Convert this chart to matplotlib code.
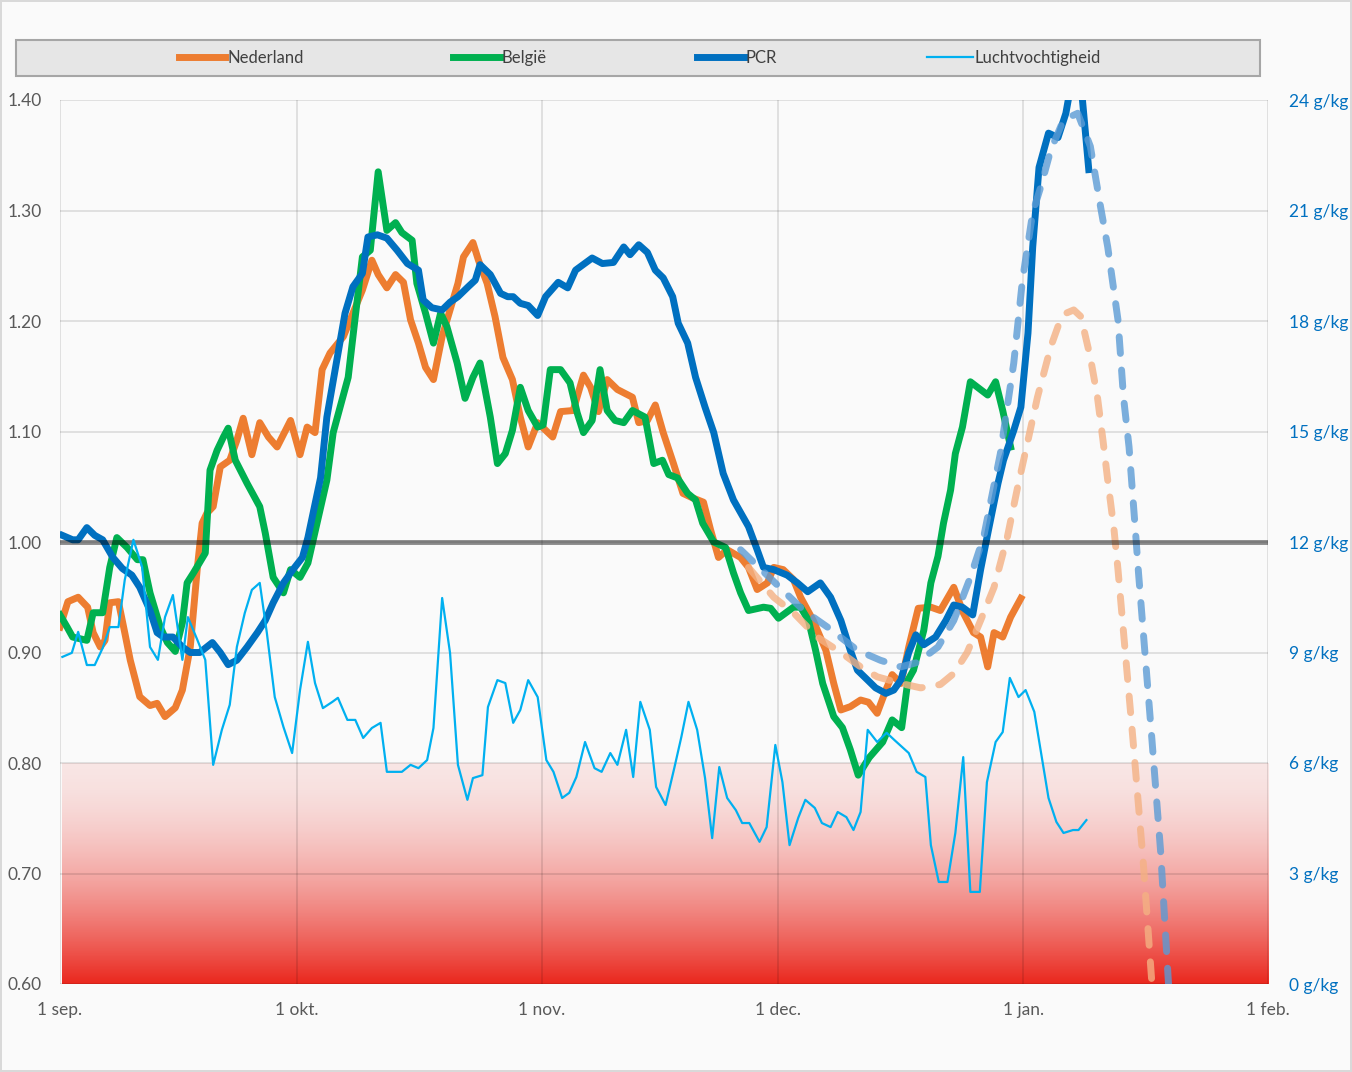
import numpy as np
import matplotlib.pyplot as plt
from matplotlib.patches import Rectangle
from matplotlib.ticker import FormatStrFormatter

plt.rcParams['font.family'] = ['Lato', 'DejaVu Sans']

# x = days since 1 sep.
nl_day = [0.0, 1.0, 2.3, 3.5, 4.2, 5.1, 5.7, 6.3, 7.4, 8.2, 8.9, 10.1, 11.4, 12.3, 13.3, 14.6,
          15.5, 16.5, 17.4, 18.0, 18.6, 19.4, 20.3, 21.5, 22.4, 23.2, 24.3, 25.3, 26.4, 27.5,
          29.2, 30.4, 31.3, 32.3, 33.2, 34.2, 35.9, 37.1, 38.3, 39.5, 40.3, 41.4, 42.5, 43.5,
          44.4, 45.4, 46.3, 47.3, 48.4, 49.4, 50.4, 51.1, 52.3, 53.0, 54.1, 55.1, 56.1, 57.3,
          58.3, 59.3, 60.5, 62.4, 63.4, 65.0, 66.3, 67.2, 68.2, 69.3, 70.6, 72.5, 73.3, 74.4,
          75.4, 76.4, 77.7, 78.9, 80.1, 81.5, 82.4, 83.4, 84.5, 86.2, 87.2, 88.3, 89.6, 90.4,
          91.6, 92.9, 93.8, 95.4, 97.0, 98.0, 98.9, 100.1, 101.4, 102.4, 103.5, 104.6, 105.4,
          106.5, 107.5, 108.7, 110.3, 111.5, 113.2, 114.4, 115.7, 116.6, 117.5, 118.3, 119.4,
          120.4, 121.7]
nl_val = [0.923, 0.946, 0.950, 0.941, 0.918, 0.905, 0.911, 0.945, 0.946, 0.918, 0.893, 0.860,
          0.852, 0.854, 0.842, 0.850, 0.866, 0.905, 0.977, 1.017, 1.026, 1.032, 1.068, 1.074,
          1.092, 1.112, 1.079, 1.108, 1.095, 1.086, 1.110, 1.079, 1.104, 1.099, 1.156, 1.171,
          1.186, 1.207, 1.228, 1.255, 1.242, 1.230, 1.242, 1.235, 1.201, 1.180, 1.158, 1.147,
          1.186, 1.210, 1.234, 1.258, 1.271, 1.255, 1.234, 1.204, 1.167, 1.147, 1.113, 1.086,
          1.108, 1.095, 1.118, 1.119, 1.151, 1.140, 1.118, 1.147, 1.138, 1.131, 1.108, 1.110,
          1.124, 1.099, 1.071, 1.044, 1.040, 1.036, 1.011, 0.986, 0.993, 0.986, 0.977, 0.957,
          0.963, 0.977, 0.975, 0.966, 0.950, 0.929, 0.902, 0.872, 0.848, 0.851, 0.857, 0.855,
          0.845, 0.866, 0.880, 0.872, 0.905, 0.940, 0.941, 0.938, 0.959, 0.936, 0.918, 0.914,
          0.887, 0.918, 0.914, 0.932, 0.949]

be_day = [0.0, 0.9, 1.6, 3.4, 4.2, 5.4, 6.3, 7.2, 8.5, 9.8, 10.5, 11.4, 12.7, 13.6, 14.6, 15.5,
          16.1, 16.9, 18.4, 19.0, 19.9, 20.7, 21.3, 22.2, 23.7, 25.3, 26.0, 27.0, 28.3, 29.2,
          30.4, 31.4, 33.8, 34.6, 36.5, 37.4, 38.3, 39.3, 40.3, 41.4, 42.5, 43.3, 44.6, 45.2,
          46.3, 47.3, 48.2, 49.0, 50.3, 51.3, 52.3, 53.2, 54.5, 55.4, 56.4, 57.3, 58.3, 59.3,
          60.5, 61.2, 62.1, 63.4, 64.6, 65.5, 66.3, 67.4, 68.4, 69.3, 70.3, 71.4, 72.5, 74.1,
          75.2, 76.3, 77.1, 78.2, 79.5, 80.5, 81.4, 82.8, 84.3, 85.3, 86.2, 87.2, 89.1, 90.0,
          91.0, 92.9, 93.8, 94.8, 95.7, 96.6, 98.0, 99.1, 100.1, 101.1, 102.5, 104.2, 105.4,
          106.6, 107.4, 108.1, 109.4, 110.3, 111.2, 111.9, 112.8, 113.4, 114.3, 115.3, 117.5,
          118.5, 119.4, 120.4]
be_val = [0.934, 0.923, 0.914, 0.911, 0.936, 0.936, 0.977, 1.004, 0.995, 0.984, 0.984, 0.954,
          0.923, 0.909, 0.901, 0.927, 0.963, 0.972, 0.990, 1.065, 1.083, 1.095, 1.103, 1.074,
          1.053, 1.032, 1.008, 0.968, 0.954, 0.975, 0.968, 0.981, 1.056, 1.099, 1.149, 1.204,
          1.258, 1.264, 1.335, 1.282, 1.289, 1.280, 1.273, 1.234, 1.207, 1.180, 1.207, 1.195,
          1.162, 1.130, 1.149, 1.162, 1.113, 1.071, 1.080, 1.101, 1.140, 1.119, 1.104, 1.106,
          1.156, 1.156, 1.144, 1.117, 1.099, 1.110, 1.156, 1.119, 1.110, 1.108, 1.119, 1.113,
          1.071, 1.074, 1.061, 1.058, 1.044, 1.038, 1.017, 1.000, 0.995, 0.972, 0.954, 0.938,
          0.941, 0.940, 0.931, 0.941, 0.941, 0.929, 0.902, 0.872, 0.842, 0.832, 0.812, 0.789,
          0.805, 0.819, 0.839, 0.832, 0.875, 0.884, 0.920, 0.963, 0.987, 1.017, 1.047, 1.080,
          1.104, 1.145, 1.133, 1.145, 1.119, 1.086]

pcr_day = [0.3, 1.6, 2.3, 3.4, 4.4, 5.4, 6.7, 7.9, 9.1, 10.1, 11.4, 12.3, 13.1, 14.3, 15.5,
           16.5, 17.7, 19.3, 20.3, 21.3, 22.4, 23.7, 25.0, 26.0, 27.0, 28.3, 29.5, 30.7, 31.4,
           33.0, 33.8, 34.9, 36.1, 37.1, 38.3, 39.0, 40.2, 41.4, 42.7, 44.0, 45.4, 46.0, 47.1,
           48.4, 49.4, 50.4, 51.7, 52.6, 53.2, 54.5, 55.8, 56.7, 57.4, 58.3, 59.3, 60.5, 61.5,
           63.1, 64.3, 65.3, 67.4, 68.7, 70.1, 71.4, 72.2, 73.3, 74.4, 75.4, 76.4, 77.6, 78.3,
           79.5, 80.5, 81.7, 82.8, 84.0, 85.3, 87.2, 88.3, 89.1, 90.4, 92.1, 93.4, 94.7, 96.3,
           97.6, 98.9, 100.1, 101.0, 102.3, 103.3, 104.6, 105.6, 106.5, 107.5, 108.4, 109.4,
           110.9, 112.2, 113.2, 114.3, 115.6, 116.6, 117.6, 118.8, 119.5, 120.8, 121.7, 122.6,
           123.2, 124.0, 125.2, 126.4, 127.4, 127.7, 128.6, 129.5, 130.3]
pcr_val = [1.006, 1.002, 1.002, 1.013, 1.006, 1.002, 0.986, 0.976, 0.970, 0.959, 0.938, 0.918,
           0.914, 0.914, 0.905, 0.900, 0.900, 0.909, 0.900, 0.889, 0.893, 0.905, 0.918, 0.929,
           0.945, 0.963, 0.975, 0.986, 1.004, 1.058, 1.113, 1.158, 1.207, 1.231, 1.243, 1.276,
           1.278, 1.275, 1.264, 1.252, 1.246, 1.219, 1.212, 1.210, 1.217, 1.222, 1.231, 1.237,
           1.251, 1.242, 1.225, 1.222, 1.222, 1.216, 1.214, 1.205, 1.222, 1.235, 1.230, 1.246,
           1.257, 1.252, 1.253, 1.267, 1.260, 1.269, 1.262, 1.246, 1.239, 1.222, 1.198, 1.180,
           1.149, 1.122, 1.099, 1.062, 1.038, 1.014, 0.993, 0.977, 0.975, 0.970, 0.963, 0.955,
           0.963, 0.950, 0.929, 0.902, 0.884, 0.875, 0.868, 0.863, 0.866, 0.875, 0.900, 0.916,
           0.907, 0.914, 0.929, 0.943, 0.941, 0.934, 0.975, 1.011, 1.053, 1.074, 1.101, 1.122,
           1.189, 1.267, 1.339, 1.370, 1.366, 1.388, 1.400, 1.430, 1.400, 1.337]

# projected curves (dashed)
pcr_proj_day = [86.2, 91.3, 94.2, 97.2, 101.0, 103.9, 106.5, 108.6, 111.2, 113.2, 115.3, 117.0,
                119.1, 120.8, 121.9, 123.2, 124.2, 125.5, 127.1, 128.9, 130.5, 131.8, 132.7,
                134.0, 134.7, 135.4, 136.2, 136.6, 138.3, 139.4, 140.4]
pcr_proj_val = [0.993, 0.958, 0.938, 0.923, 0.902, 0.893, 0.887, 0.891, 0.905, 0.929, 0.968,
                1.005, 1.080, 1.162, 1.237, 1.298, 1.321, 1.355, 1.382, 1.388, 1.358, 1.303,
                1.267, 1.201, 1.131, 1.086, 1.011, 0.972, 0.821, 0.720, 0.600]

nl_proj_day = [87.2, 90.4, 92.9, 95.9, 98.9, 101.4, 103.5, 106.5, 109.0, 111.5, 113.2, 114.9,
               116.6, 118.3, 120.0, 121.3, 122.6, 123.8, 125.5, 126.7, 127.4, 128.4, 129.3,
               130.5, 131.4, 132.1, 132.7, 133.5, 134.0, 135.9, 137.2, 138.3]
nl_proj_val = [0.977, 0.950, 0.936, 0.914, 0.900, 0.887, 0.878, 0.872, 0.868, 0.871, 0.881,
               0.900, 0.929, 0.959, 1.005, 1.050, 1.092, 1.131, 1.177, 1.201, 1.207, 1.210,
               1.204, 1.167, 1.131, 1.092, 1.056, 1.011, 0.975, 0.821, 0.710, 0.600]

# humidity, g/kg (right axis)
hum_day = [0.3, 1.5, 2.3, 3.4, 4.4, 5.4, 6.3, 7.4, 8.2, 9.3, 10.4, 11.4, 12.4, 13.3, 14.3, 15.5,
           16.2, 17.4, 18.4, 19.4, 20.5, 21.5, 22.4, 23.4, 24.3, 25.3, 26.2, 27.2, 28.3, 29.4,
           30.4, 31.4, 32.3, 33.3, 34.5, 35.2, 36.4, 37.4, 38.4, 39.5, 40.6, 41.4, 43.3, 44.4,
           45.4, 46.5, 47.3, 48.4, 49.4, 50.4, 51.6, 52.3, 53.5, 54.2, 55.4, 56.4, 57.4, 58.3,
           59.3, 60.5, 61.6, 62.5, 63.6, 64.5, 65.4, 66.5, 67.7, 68.6, 69.7, 70.6, 71.7, 72.6,
           73.5, 74.7, 75.5, 76.7, 77.8, 78.7, 79.6, 80.7, 81.7, 82.6, 83.5, 84.5, 85.6, 86.4,
           87.3, 88.6, 89.5, 90.6, 91.5, 92.4, 93.5, 94.4, 95.6, 96.5, 97.6, 98.5, 99.6, 100.5,
           101.4, 102.3, 103.5, 104.7, 105.7, 107.5, 108.5, 109.6, 110.3, 111.3, 112.4, 113.4,
           114.4, 115.3, 116.5, 117.4, 118.5, 119.4, 120.3, 121.4, 122.3, 123.4, 125.2, 126.2,
           127.1, 128.3, 129.0, 130.0]
hum_val = [8.88, 8.99, 9.56, 8.66, 8.66, 9.12, 9.69, 9.69, 10.97, 12.06, 11.32, 9.15, 8.80, 9.96,
           10.56, 8.80, 9.96, 9.34, 8.80, 5.95, 6.90, 7.58, 9.15, 10.07, 10.70, 10.89, 9.53, 7.79,
           6.98, 6.27, 7.98, 9.29, 8.17, 7.49, 7.66, 7.77, 7.17, 7.17, 6.68, 6.95, 7.09, 5.76,
           5.76, 5.95, 5.86, 6.08, 6.95, 10.48, 8.99, 5.95, 5.00, 5.59, 5.67, 7.52, 8.25, 8.17,
           7.09, 7.44, 8.25, 7.79, 6.08, 5.76, 5.05, 5.19, 5.62, 6.57, 5.86, 5.76, 6.27, 5.95,
           6.90, 5.62, 7.66, 6.90, 5.35, 4.86, 5.86, 6.71, 7.66, 6.90, 5.59, 3.96, 5.89, 5.05,
           4.72, 4.37, 4.37, 3.86, 4.26, 6.49, 5.48, 3.77, 4.51, 5.00, 4.78, 4.37, 4.26, 4.67,
           4.53, 4.18, 4.67, 6.90, 6.57, 6.82, 6.62, 6.27, 5.76, 5.62, 3.77, 2.77, 2.77, 4.10,
           6.16, 2.50, 2.50, 5.48, 6.57, 6.84, 8.31, 7.79, 7.98, 7.39, 5.05, 4.40, 4.10, 4.18,
           4.18, 4.45]

month_pos = [0, 30, 61, 91, 122, 153]
month_labels = ['1 sep.', '1 okt.', '1 nov.', '1 dec.', '1 jan.', '1 feb.']

W, H = 1352, 1072
bg = '#fafafa'
fig = plt.figure(figsize=(W / 100, H / 100), dpi=100, facecolor=bg,
                 edgecolor='#d9d9d9', linewidth=1.5)
ax = fig.add_axes([60 / W, 88 / H, 1208 / W, 884 / H])
ax.set_facecolor(bg)

# red danger zone below 0.80
t = np.linspace(0, 1, 256)[:, None]
grad = np.zeros((256, 1, 4))
grad[..., 0], grad[..., 1], grad[..., 2] = 0.92, 0.15, 0.11
grad[..., 3] = 0.1 + 0.9 * (1 - t) ** 1.7
ax.imshow(grad, extent=[0.2, 153, 0.6, 0.8], origin='lower', aspect='auto', zorder=0)

lw = 5
ax.plot(nl_day, nl_val, color='#ED7D31', lw=lw, solid_joinstyle='round', label='Nederland', zorder=3)
ax.plot(be_day, be_val, color='#00B050', lw=lw, solid_joinstyle='round', label='België', zorder=4)
ax.plot(pcr_day, pcr_val, color='#0070C0', lw=lw, solid_joinstyle='round', label='PCR', zorder=5)
ax.plot(nl_proj_day, nl_proj_val, color='#F4B183', lw=lw, alpha=0.8, dashes=(2.4, 2.4),
        dash_capstyle='round', zorder=6)
ax.plot(pcr_proj_day, pcr_proj_val, color='#5B9BD5', lw=lw, alpha=0.8, dashes=(2.4, 2.4),
        dash_capstyle='round', zorder=6)
ax.axhline(1.0, color='black', alpha=0.45, lw=3.5, zorder=7)

ax.set_xlim(0, 153)
ax.set_ylim(0.6, 1.4)
ax.set_xticks(month_pos)
ax.set_xticklabels(month_labels)
ax.set_yticks(np.arange(0.6, 1.401, 0.1))
ax.yaxis.set_major_formatter(FormatStrFormatter('%.2f'))
ax.tick_params(axis='x', length=0, pad=13, labelsize=12.5, labelcolor='#595959')
ax.tick_params(axis='y', length=0, pad=13, labelsize=12.5, labelcolor='#595959')
ax.grid(True, color='black', alpha=0.12, lw=1.2)
ax.set_axisbelow(True)
for s in ax.spines.values():
    s.set_visible(False)

ax2 = ax.twinx()
ax2.plot(hum_day, hum_val, color='#00B0F0', lw=1.6, label='Luchtvochtigheid', zorder=3)
ax2.set_ylim(0, 24)
ax2.set_yticks(range(0, 25, 3))
ax2.set_yticklabels([f'{v} g/kg' for v in range(0, 25, 3)])
ax2.tick_params(axis='y', length=0, pad=15, labelsize=12.5, labelcolor='#0070C0')
for s in ax2.spines.values():
    s.set_visible(False)

# legend strip on top
fig.add_artist(Rectangle((16 / W, 1 - 76 / H), 1244 / W, 36 / H, transform=fig.transFigure,
                         facecolor='#e6e6e6', edgecolor='#a6a6a6', lw=1.5, zorder=0))
h1, l1 = ax.get_legend_handles_labels()
h2, l2 = ax2.get_legend_handles_labels()
fig.legend(h1 + h2, l1 + l2, loc='center', bbox_to_anchor=(640 / W, 1 - 58 / H), ncol=4,
           frameon=False, fontsize=12, handlelength=2.8, handletextpad=0.1,
           columnspacing=9.0, labelcolor='#404040')

fig.savefig('out.png', dpi=100)
